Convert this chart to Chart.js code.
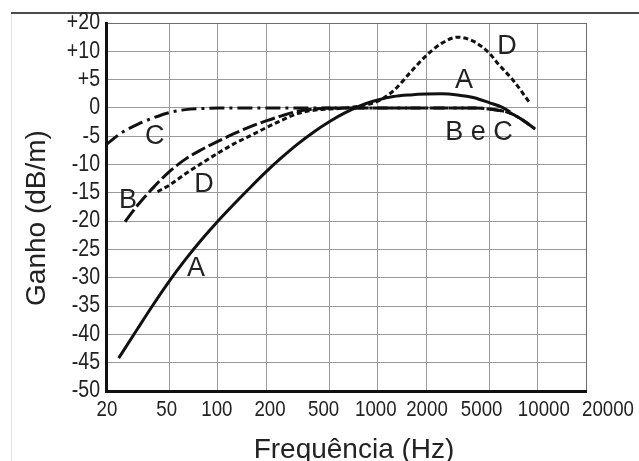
<!DOCTYPE html>
<html>
<head>
<meta charset="utf-8" />
<script src="https://cdn.jsdelivr.net/npm/chart.js@4.4.0/dist/chart.umd.min.js"></script>
<style>
  html, body { margin:0; padding:0; background:#fff; overflow:hidden; }
  #wrap { width:639px; height:461px; }
</style>
</head>
<body>
<div id="wrap"><canvas id="chart" width="639" height="461"></canvas></div>
<script>
// axis ticks
const xTicks = [20, 50, 100, 200, 500, 1000, 2000, 5000, 10000, 20000];
const xTickLabels = ['20', '50', '100', '200', '500', '1000', '2000', '5000', '10000', '20000'];
const yTicks = [-50, -45, -40, -35, -30, -25, -20, -15, -10, -5, 0, 5, 10, 15];
const yTickLabels = ['-50', '-45', '-40', '-35', '-30', '-25', '-20', '-15', '-10', '-5', '0', '+5', '+10', '+20'];

// curves (Hz, dB)
const freqA = [24, 31.5, 40, 50, 63, 80, 100, 125, 160, 200, 250, 315, 400, 500, 630, 800, 1000, 1250, 1600, 2000, 2500, 3150, 4000, 5000, 6000, 6700];
const gainA = [-44.2, -39.0, -34.5, -30.5, -26.7, -23.1, -20.0, -17.1, -14.0, -11.3, -8.8, -6.4, -4.2, -2.4, -0.8, 0.55, 1.4, 2.0, 2.3, 2.45, 2.5, 2.3, 1.8, 0.9, 0.1, -0.7];

const freqB = [26.3, 31.5, 40, 50, 63, 80, 100, 125, 160, 200, 250, 315, 400, 500, 1000, 2000, 4000, 5000, 6700, 8000, 9800];
const gainB = [-20.1, -17.2, -13.9, -11.2, -9.0, -7.3, -5.9, -4.6, -3.3, -2.3, -1.4, -0.6, -0.2, 0, 0, 0, 0, -0.2, -0.9, -2.1, -3.9];

const freqC = [20, 25, 31.5, 40, 50, 63, 80, 100, 1000, 4000, 5000, 6700, 8000, 9800];
const gainC = [-6.5, -4.4, -2.9, -1.7, -0.8, -0.3, -0.1, 0, 0, 0, -0.2, -0.9, -2.1, -3.9];

const freqD = [42, 50, 63, 80, 100, 125, 160, 200, 250, 315, 400, 500, 630, 800, 1000, 1250, 1600, 2000, 2500, 3150, 4000, 5000, 5600, 7000, 8900];
const gainD = [-14.8, -13.6, -11.6, -9.7, -8.0, -6.4, -4.9, -3.5, -2.2, -1.0, -0.4, -0.2, 0, 0.4, 1.2, 3.0, 6.3, 9.2, 11.4, 12.5, 11.7, 9.6, 7.9, 4.9, 0.9];

// curve names written on the plot
const noteTexts = ['A', 'A', 'B', 'C', 'D', 'D', 'B e C'];
const noteFreqs = [73, 3460, 27.5, 40.4, 82, 6410, 4290];
const noteGains = [-28.3, 4.8, -16.3, -5.1, -13.6, 10.8, -4.3];

const FONT = '"Liberation Sans", Arial, sans-serif';
const INK = '#111';
const TXT = '#222';
const SQUEEZE = 0.85;   // tick labels are set in a narrow face

// nudge of the hand-placed x labels (px)
const xLabelShift = [1, -3, -1, 4, -6, -2, 1, -8, 6, 22];

function pts(fs, gs) { return fs.map((f, i) => ({ x: f, y: gs[i] })); }

function curve(data, dash) {
  return { data, borderColor: INK, borderWidth: 3, borderDash: dash,
           pointRadius: 0, fill: false, cubicInterpolationMode: 'monotone' };
}

function narrowText(c, text, x, y, align, base) {
  c.save();
  c.translate(x, y);
  c.scale(SQUEEZE, 1);
  c.textAlign = align; c.textBaseline = base;
  c.fillText(text, 0, 0);
  c.restore();
}

const notesPlugin = {
  id: 'notes',
  beforeDraw(chart) {
    const c = chart.ctx;
    c.save();
    c.strokeStyle = '#e2e2e2'; c.lineWidth = 1;
    c.beginPath(); c.moveTo(11.5, 13); c.lineTo(11.5, 461); c.stroke();
    c.strokeStyle = '#111'; c.lineWidth = 1.6;
    c.beginPath(); c.moveTo(11, 13); c.lineTo(639, 13); c.stroke();
    c.restore();
  },
  afterDatasetsDraw(chart) {
    const c = chart.ctx, sx = chart.scales.x, sy = chart.scales.y, a = chart.chartArea;
    c.save();
    c.fillStyle = '#222';
    c.font = '27px ' + FONT;
    c.textAlign = 'center'; c.textBaseline = 'middle';
    noteTexts.forEach((t, i) => {
      c.fillText(t, sx.getPixelForValue(noteFreqs[i]), sy.getPixelForValue(noteGains[i]));
    });

    // tick labels
    c.fillStyle = TXT;
    c.font = '23px ' + FONT;
    yTicks.forEach((v, i) => narrowText(c, yTickLabels[i], a.left - 6, sy.getPixelForValue(v), 'right', 'middle'));
    c.font = '22px ' + FONT;
    xTicks.forEach((v, i) => narrowText(c, xTickLabels[i], sx.getPixelForValue(v) + xLabelShift[i], a.bottom + 25, 'center', 'alphabetic'));

    // axis titles
    c.font = '28px ' + FONT;
    c.textAlign = 'center'; c.textBaseline = 'alphabetic';
    c.fillText('Frequência (Hz)', (a.left + a.right) / 2 + 8, 458);
    c.save();
    c.translate(45, (a.top + a.bottom) / 2 + 11);
    c.rotate(-Math.PI / 2);
    c.fillText('Ganho (dB/m)', 0, 0);
    c.restore();
    c.restore();
  }
};

new Chart(document.getElementById('chart'), {
  type: 'line',
  data: { datasets: [
    curve(pts(freqC, gainC), [15, 5, 3, 5]),
    curve(pts(freqB, gainB), [15, 4]),
    curve(pts(freqD, gainD), [5, 3]),
    curve(pts(freqA, gainA), [])
  ] },
  options: {
    responsive: false, animation: false,
    layout: { padding: { top: 23, right: 53, bottom: 0, left: 22 } },
    plugins: { legend: { display: false }, tooltip: { enabled: false } },
    scales: {
      x: {
        type: 'logarithmic', min: 20, max: 20000,
        afterBuildTicks: s => { s.ticks = xTicks.map(v => ({ value: v })); },
        afterFit: s => { s.height = 70; },
        ticks: { display: false, autoSkip: false },
        grid: { drawTicks: false, lineWidth: 1,
                color: c => c.index === xTicks.length - 1 ? '#6e6e6e' : '#9a9a9a' },
        border: { color: '#111', width: 3 }
      },
      y: {
        type: 'linear', min: -50, max: 15,
        afterBuildTicks: s => { s.ticks = yTicks.map(v => ({ value: v })); },
        afterFit: s => { s.width = 84; },
        ticks: { display: false, autoSkip: false },
        grid: { drawTicks: false, lineWidth: 1,
                color: c => c.index === yTicks.length - 1 ? '#6e6e6e' : '#9a9a9a' },
        border: { color: '#111', width: 3 }
      }
    }
  },
  plugins: [notesPlugin]
});
</script>
</body>
</html>
